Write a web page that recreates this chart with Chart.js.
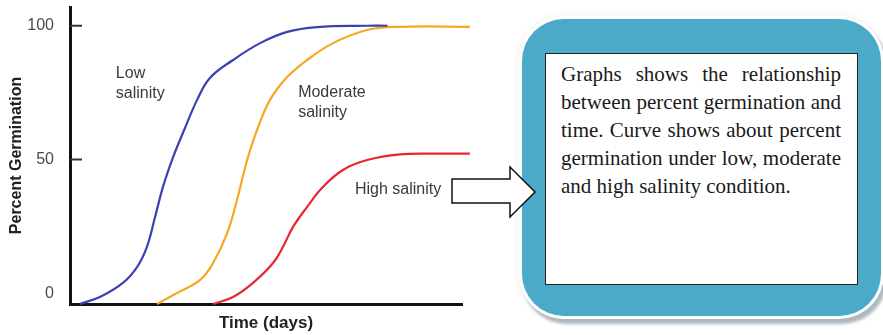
<!DOCTYPE html>
<html lang="en">
<head>
  <meta charset="UTF-8" />
  <title>Percent Germination vs Time</title>
  <script src="https://cdn.jsdelivr.net/npm/chart.js"></script>
  <style>
    body { margin: 0; background: #fff; }
    .wrap { position: relative; width: 883px; height: 335px; overflow: hidden; }
    #germChart { position: absolute; left: 0; top: 0; }
    .arrow { position: absolute; left: 0; top: 0; z-index: 3; }
    .panel {
      position: absolute; left: 522px; top: 19px; width: 359px; height: 297px;
      background: #4aaac8; border-radius: 42px;
      box-shadow: 0 0 0 3px #fff, 3px 5px 3px 3px rgba(110,130,140,0.55), 0 0 6px 4px rgba(0,0,0,0.06);
    }
    .note {
      position: absolute; left: 545px; top: 53px; width: 280px; height: 224px;
      border: 1.5px solid #222; background: #fff;
      padding: 6px 16px 0 15px;
      font-family: "Liberation Serif", "Times New Roman", serif;
      font-size: 21px; line-height: 28px; color: #1a1a1a;
      text-align: justify;
    }
  </style>
</head>
<body>
  <div class="wrap">
    <canvas id="germChart" width="883" height="335"></canvas>

    <div class="panel"></div>
    <div class="note">Graphs shows the relationship between percent germination and time. Curve shows about percent germination under low, moderate and high salinity condition.</div>

    <!-- arrow from the chart to the note -->
    <svg class="arrow" width="883" height="335">
      <polygon points="452,179 510,179 510,167 535,192 510,217 510,203 452,203"
               fill="#fff" stroke="#111" stroke-width="1.5" />
    </svg>
  </div>

  <script>
    // time in arbitrary units (0-100 along the axis), values in percent
    const lowX = [2.5, 7.6, 13.5, 17.1, 19.6, 21.7, 23.7, 26.3, 28.8, 32.4, 35.7, 41.6, 48.5, 55.4, 63, 75.8, 81];
    const lowY = [-4, -1.4, 3.9, 9.8, 17.3, 28.5, 39.7, 50.9, 59.9, 72.2, 80.5, 87.2, 93.5, 97.7, 99.5, 100, 100];

    const modX = [22.2, 27.3, 33.2, 36.5, 40.1, 42.6, 45.2, 47.7, 51, 55.4, 60.5, 67.1, 75.8, 84.2, 102];
    const modY = [-4, 0.1, 5, 11.3, 22.5, 34.9, 49.8, 61, 72.2, 80.8, 87.2, 93.5, 98.4, 99.6, 99.6];

    const highX = [36.5, 41.6, 46.7, 51.8, 54.3, 56.9, 60.5, 64.5, 69.6, 75.8, 84.2, 92.6, 102];
    const highY = [-4, -1.4, 3.9, 11.3, 17.3, 24.8, 32.3, 39.7, 46.1, 49.8, 51.9, 52.2, 52.2];

    const yTicks = [0, 50, 100];
    const markedTicks = [50, 100];

    // curve captions: text lines, anchored at [time, percent]
    const captions = [
      { lines: ["Low", "salinity"], at: [11.7, 82] },
      { lines: ["Moderate", "salinity"], at: [58.2, 75] },
      { lines: ["High salinity"], at: [72.7, 38.6] }
    ];

    function toPoints(xs, ys) {
      return xs.map((x, i) => ({ x: x, y: ys[i] }));
    }

    // short tick marks pointing into the plot, plus curve captions
    const extras = {
      id: "extras",
      afterDraw(chart) {
        const ctx = chart.ctx;
        const xs = chart.scales.x;
        const ys = chart.scales.y;
        const x0 = xs.getPixelForValue(0);
        ctx.save();
        ctx.strokeStyle = "#333";
        ctx.lineWidth = 2;
        markedTicks.forEach((v) => {
          const py = ys.getPixelForValue(v);
          ctx.beginPath();
          ctx.moveTo(x0, py);
          ctx.lineTo(x0 + 12, py);
          ctx.stroke();
        });

        ctx.fillStyle = "#3a3a3a";
        ctx.font = "16px 'Liberation Sans', Arial, sans-serif";
        ctx.textBaseline = "middle";
        captions.forEach((c) => {
          const px = xs.getPixelForValue(c.at[0]);
          const py = ys.getPixelForValue(c.at[1]);
          c.lines.forEach((t, i) => ctx.fillText(t, px, py + i * 20));
        });
        ctx.restore();
      }
    };

    const ctx = document.getElementById("germChart").getContext("2d");
    new Chart(ctx, {
      type: "line",
      data: {
        datasets: [
          { label: "Low salinity", data: toPoints(lowX, lowY), borderColor: "#3c40b2" },
          { label: "Moderate salinity", data: toPoints(modX, modY), borderColor: "#f6a823" },
          { label: "High salinity", data: toPoints(highX, highY), borderColor: "#e8262e" }
        ]
      },
      options: {
        responsive: false,
        animation: false,
        layout: { padding: { left: 0, right: 421, top: 7, bottom: 0 } },
        elements: {
          point: { radius: 0 },
          line: { borderWidth: 2.2, tension: 0.4, fill: false }
        },
        datasets: { line: { clip: false } },
        plugins: { legend: { display: false }, tooltip: { enabled: false } },
        scales: {
          x: {
            type: "linear",
            min: 0,
            max: 100,
            grid: { display: false },
            border: { display: true, color: "#111", width: 3 },
            ticks: { display: false },
            title: {
              display: true,
              text: "Time (days)",
              color: "#222",
              font: { family: "'Liberation Sans', Arial, sans-serif", size: 17, weight: "bold" },
              padding: { top: 0, bottom: 1 }
            },
            afterFit(scale) {
              scale.height = 31;
              scale.paddingLeft = 0;
              scale.paddingRight = 0;
            }
          },
          y: {
            min: -4,
            max: 107,
            afterBuildTicks(scale) { scale.ticks = yTicks.map((v) => ({ value: v })); },
            grid: { display: false },
            border: { display: true, color: "#111", width: 3 },
            ticks: {
              color: "#4a4a4a",
              padding: 8,
              font: { family: "'Liberation Sans', Arial, sans-serif", size: 16 }
            },
            title: {
              display: true,
              text: "Percent Germination",
              color: "#222",
              font: { family: "'Liberation Sans', Arial, sans-serif", size: 16, weight: "bold" },
              padding: { top: 7, bottom: 0 }
            },
            afterFit(scale) {
              scale.width = 70;
              scale.paddingTop = 0;
              scale.paddingBottom = 0;
            }
          }
        }
      },
      plugins: [extras]
    });
  </script>
</body>
</html>
